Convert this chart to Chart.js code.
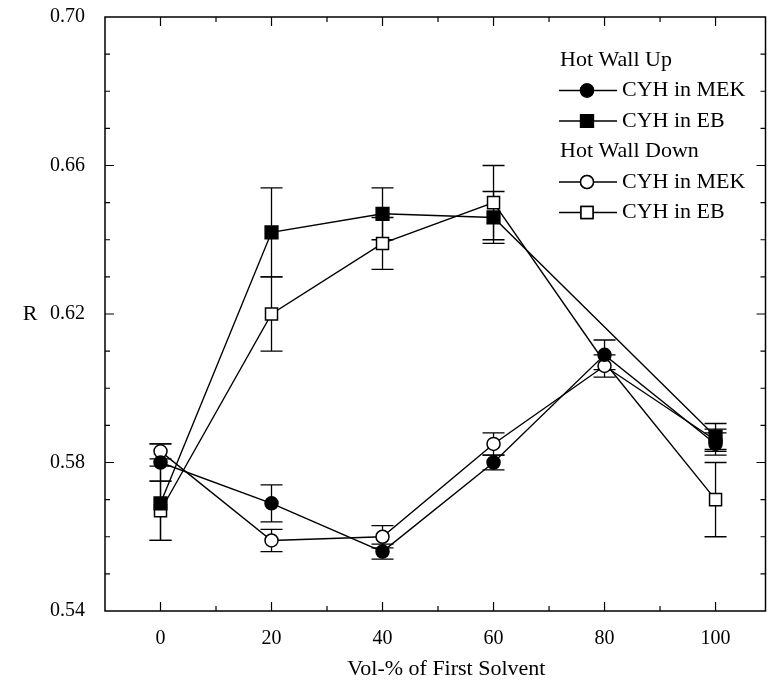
<!DOCTYPE html>
<html>
<head>
<meta charset="utf-8">
<title>R vs Vol-% of First Solvent</title>
<script src="https://cdn.jsdelivr.net/npm/chart.js@4.4.0/dist/chart.umd.min.js"></script>
<style>
    html, body { margin: 0; padding: 0; background: #fff; overflow: hidden; }
    /* a little wider than the window: Chart.js keeps ~11px free on the right */
    #wrap { position: relative; width: 776px; height: 685px; }
</style>
</head>
<body>
<div id="wrap"><canvas id="chart"></canvas></div>
<script>
/* ---- data ---- */
const solventPct = [0, 20, 40, 60, 80, 100];

const upMek     = [0.580, 0.569, 0.556, 0.580, 0.609, 0.585];
const upMekErr  = [0.005, 0.005, 0.002, 0.002, 0.004, 0.003];
const upEb      = [0.569, 0.642, 0.647, 0.646, null, 0.587];
const upEbErr   = [0.010, 0.012, 0.007, 0.007, null, 0.0035];
const downMek    = [0.583, 0.559, 0.560, 0.585, 0.606, 0.586];
const downMekErr = [0.002, 0.003, 0.003, 0.003, 0.003, 0.003];
const downEb     = [0.567, 0.620, 0.639, 0.650, 0.607, 0.570];
const downEbErr  = [0.008, 0.010, 0.007, 0.010, 0, 0.010];

const xTicks = [0, 20, 40, 60, 80, 100];
const yTicks = [0.54, 0.58, 0.62, 0.66, 0.70];

const FONT = "'Liberation Serif', 'DejaVu Serif', serif";

function pts(vals) {
    return solventPct.map((x, i) => ({ x: x, y: vals[i] }));
}

const series = [
    { group: "Hot Wall Up",   label: "CYH in MEK", values: upMek,   errors: upMekErr,   style: "circle", filled: true },
    { group: "Hot Wall Up",   label: "CYH in EB",  values: upEb,    errors: upEbErr,    style: "rect",   filled: true },
    { group: "Hot Wall Down", label: "CYH in MEK", values: downMek, errors: downMekErr, style: "circle", filled: false },
    { group: "Hot Wall Down", label: "CYH in EB",  values: downEb,  errors: downEbErr,  style: "rect",   filled: false },
];

function markerRadius(s) {
    if (s.style === "rect") return s.filled ? 9 : 8.5;
    return 6.5;
}

const datasets = series.map((s) => ({
    label: s.group + " " + s.label,
    data: pts(s.values),
    errors: s.errors,
    showLine: true,
    spanGaps: true,
    borderColor: "#000",
    borderWidth: 1.4,
    pointStyle: s.style,
    // the open-square point at 80 sits behind the circles in the figure
    pointRadius: (c) => (!s.filled && s.style === "rect" && c.dataIndex === 4 ? 0 : markerRadius(s)),
    pointBackgroundColor: s.filled ? "#000" : "#fff",
    pointBorderColor: "#000",
    pointBorderWidth: 1.5,
}));

/* ---- error bars ---- */
const errorBars = {
    id: "errorBars",
    beforeDatasetsDraw(chart) {
        const { ctx, scales: { x, y } } = chart;
        ctx.save();
        ctx.strokeStyle = "#000";
        ctx.lineWidth = 1.3;
        chart.data.datasets.forEach((ds) => {
            ds.data.forEach((p, i) => {
                const e = ds.errors[i];
                if (p.y == null || !e) return;
                const px = x.getPixelForValue(p.x);
                const top = y.getPixelForValue(p.y + e);
                const bot = y.getPixelForValue(p.y - e);
                ctx.beginPath();
                ctx.moveTo(px, top); ctx.lineTo(px, bot);
                ctx.moveTo(px - 11, top); ctx.lineTo(px + 11, top);
                ctx.moveTo(px - 11, bot); ctx.lineTo(px + 11, bot);
                ctx.stroke();
            });
        });
        ctx.restore();
    },
};

/* ---- box with inward ticks on all four sides, axis titles ---- */
const frame = {
    id: "frame",
    afterDraw(chart) {
        const { ctx, chartArea: a, scales: { x, y } } = chart;
        ctx.save();
        ctx.strokeStyle = "#000";
        ctx.lineWidth = 1.5;
        ctx.strokeRect(a.left, a.top, a.right - a.left, a.bottom - a.top);
        ctx.lineWidth = 1.2;
        ctx.beginPath();
        for (let v = 0; v < x.max; v += 10) {
            const px = x.getPixelForValue(v);
            const len = xTicks.includes(Math.round(v)) ? 9 : 5;
            ctx.moveTo(px, a.bottom); ctx.lineTo(px, a.bottom - len);
            ctx.moveTo(px, a.top); ctx.lineTo(px, a.top + len);
        }
        for (let k = 1; k < 16; k++) {
            const v = y.min + k * 0.01;
            const py = y.getPixelForValue(v);
            const len = k % 4 === 0 ? 9 : 5;
            ctx.moveTo(a.left, py); ctx.lineTo(a.left + len, py);
            ctx.moveTo(a.right, py); ctx.lineTo(a.right - len, py);
        }
        ctx.stroke();

        ctx.fillStyle = "#000";
        ctx.font = "22px " + FONT;
        ctx.textAlign = "center";
        ctx.textBaseline = "middle";
        // upright y title, x title sits a bit right of the plot centre
        ctx.fillText("R", 30, y.getPixelForValue(0.62));
        ctx.fillText("Vol-% of First Solvent", x.getPixelForValue(51.5), 669);
        ctx.restore();
    },
};

/* ---- legend with group headers ---- */
const groupedLegend = {
    id: "groupedLegend",
    afterDraw(chart) {
        const { ctx } = chart;
        ctx.save();
        ctx.font = "22px " + FONT;
        ctx.fillStyle = "#000";
        ctx.strokeStyle = "#000";
        ctx.textBaseline = "middle";
        ctx.textAlign = "left";
        let rowY = 60;
        let lastGroup = null;
        series.forEach((s) => {
            if (s.group !== lastGroup) {
                ctx.fillText(s.group, 560, rowY);
                rowY += 30.5;
                lastGroup = s.group;
            }
            ctx.lineWidth = 1.4;
            ctx.beginPath();
            ctx.moveTo(559, rowY); ctx.lineTo(617, rowY);
            ctx.stroke();
            Chart.helpers.drawPoint(ctx, {
                pointStyle: s.style,
                radius: markerRadius(s),
                borderWidth: 1.5,
                rotation: 0,
            }, 587, rowY);
            ctx.fillStyle = s.filled ? "#000" : "#fff";
            ctx.fill();
            ctx.lineWidth = 1.5;
            ctx.stroke();
            ctx.fillStyle = "#000";
            ctx.fillText(s.label, 622, rowY);
            rowY += 30.5;
        });
        ctx.restore();
    },
};

new Chart(document.getElementById("chart"), {
    type: "scatter",
    data: { datasets },
    options: {
        responsive: true,
        maintainAspectRatio: false,
        animation: false,
        layout: { padding: { top: 17, right: 0, left: 0, bottom: 0 } },
        plugins: { legend: { display: false }, tooltip: { enabled: false } },
        scales: {
            x: {
                type: "linear",
                min: -10,
                max: 109,
                grid: { display: false },
                border: { display: false },
                afterFit: (s) => { s.height = 74; s.paddingLeft = 0; s.paddingRight = 0; },
                afterBuildTicks: (s) => { s.ticks = xTicks.map((v) => ({ value: v })); },
                ticks: {
                    padding: 8,
                    color: "#000",
                    font: { family: FONT, size: 20 },
                    maxRotation: 0,
                },
            },
            y: {
                type: "linear",
                min: 0.54,
                max: 0.70,
                grid: { display: false },
                border: { display: false },
                afterFit: (s) => { s.width = 105; s.paddingTop = 0; s.paddingBottom = 0; },
                afterBuildTicks: (s) => { s.ticks = yTicks.map((v) => ({ value: v })); },
                ticks: {
                    padding: 12,
                    color: "#000",
                    font: { family: FONT, size: 20 },
                    callback: (v) => Number(v).toFixed(2),
                },
            },
        },
    },
    plugins: [errorBars, frame, groupedLegend],
});
</script>
</body>
</html>
